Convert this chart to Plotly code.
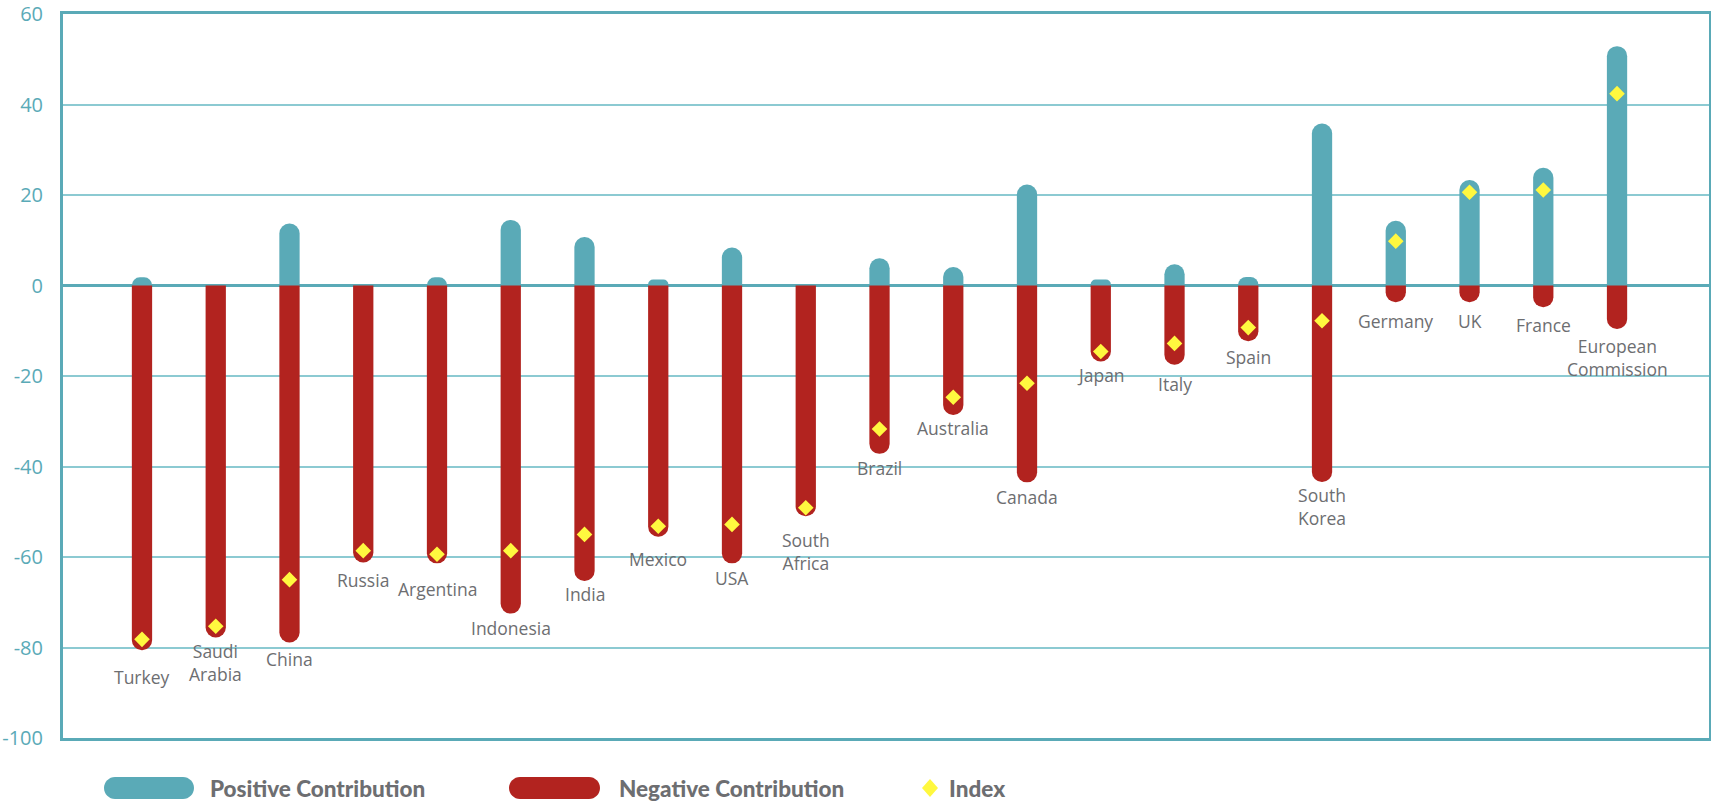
import plotly.graph_objects as go

# Country contributions (positive / negative) and the resulting index
countries = [
    "Turkey", "Saudi Arabia", "China", "Russia", "Argentina", "Indonesia",
    "India", "Mexico", "USA", "South Africa", "Brazil", "Australia", "Canada",
    "Japan", "Italy", "Spain", "South Korea", "Germany", "UK", "France",
    "European Commission",
]
positive = [1.8, 0, 13.7, 0, 1.8, 14.5, 10.7, 1.3, 8.4, 0, 6.0, 4.1, 22.3,
            1.3, 4.7, 1.9, 35.8, 14.3, 23.3, 26.0, 52.9]
negative = [-80.6, -77.8, -78.9, -61.2, -61.4, -72.5, -65.3, -55.5, -61.4,
            -51.0, -37.2, -28.6, -43.5, -16.8, -17.5, -12.3, -43.4, -3.7,
            -3.7, -4.8, -9.6]
index = [-78.2, -75.3, -65.0, -58.6, -59.4, -58.6, -55.0, -53.2, -52.8,
         -49.1, -31.7, -24.7, -21.6, -14.6, -12.8, -9.3, -7.8, 9.8, 20.6,
         21.1, 42.4]
y_ticks = [60, 40, 20, 0, -20, -40, -60, -80, -100]

TEAL = "#5aaab7"
RED = "#b2231f"
YELLOW = "#fff83f"
GRID = "#8ccad2"
LABEL = "#6d6e71"

# pixel distance from the end of each red bar to the middle of its label
label_drop = [27, 25, 16, 18, 26, 14, 13, 22, 15, 35, 14, 13, 15, 13, 19,
              16, 25, 19, 19, 18, 29]

W, H = 1711, 804
L, R, T, B = 63, 2, 14, 66

fig = go.Figure()
fig.add_trace(go.Bar(
    x=countries, y=positive, width=0.275, name="Positive Contribution",
    marker=dict(color=TEAL, line=dict(width=0), cornerradius="50%"),
    hoverinfo="skip",
))
fig.add_trace(go.Bar(
    x=countries, y=negative, width=0.275, name="Negative Contribution",
    marker=dict(color=RED, line=dict(width=0), cornerradius="50%"),
    hoverinfo="skip",
))
fig.add_trace(go.Scatter(
    x=countries, y=index, mode="markers", name="Index",
    marker=dict(symbol="diamond", size=12, color=YELLOW, line=dict(width=0)),
    hoverinfo="skip",
))

annotations = []
for name, neg, drop in zip(countries, negative, label_drop):
    annotations.append(dict(
        x=name, y=neg, xref="x", yref="y", text=name.replace(" ", "<br>"),
        showarrow=False, xanchor="center", yanchor="middle", yshift=-drop,
        font=dict(family="Open Sans", size=17.5, color=LABEL),
    ))


def pill(x0, x1, yc, h):
    r = h / 2
    k = 0.5523 * r
    yb, yt = yc - r, yc + r
    return (
        f"M{x0 + r},{yb} L{x1 - r},{yb} "
        f"C{x1 - r + k},{yb} {x1},{yc - k} {x1},{yc} "
        f"C{x1},{yc + k} {x1 - r + k},{yt} {x1 - r},{yt} "
        f"L{x0 + r},{yt} "
        f"C{x0 + r - k},{yt} {x0},{yc + k} {x0},{yc} "
        f"C{x0},{yc - k} {x0 + r - k},{yb} {x0 + r},{yb} Z"
    )


# legend row below the plot, positioned in pixels from the plot's lower-left corner
leg_y = -50
shapes = []
for (x0, x1), col in [((41, 131), TEAL), ((446, 537), RED)]:
    shapes.append(dict(
        type="path", xref="paper", yref="paper", xsizemode="pixel",
        ysizemode="pixel", xanchor=0, yanchor=0,
        path=pill(x0, x1, leg_y, 22), fillcolor=col, line=dict(width=0),
    ))
dx, dy = 867, leg_y
shapes.append(dict(
    type="path", xref="paper", yref="paper", xsizemode="pixel",
    ysizemode="pixel", xanchor=0, yanchor=0,
    path=f"M{dx - 8},{dy} L{dx},{dy + 9} L{dx + 8},{dy} L{dx},{dy - 9} Z",
    fillcolor=YELLOW, line=dict(width=0),
))
for text, xs in [("Positive Contribution", 145), ("Negative Contribution", 554),
                 ("Index", 884)]:
    annotations.append(dict(
        x=0, y=0, xref="paper", yref="paper", xanchor="left",
        yanchor="middle", xshift=xs, yshift=leg_y, showarrow=False,
        text=text,
        font=dict(family="Lato", size=22.5, color=LABEL, weight=900),
    ))

fig.update_layout(
    width=W, height=H,
    margin=dict(l=L, r=R, t=T, b=B, pad=0, autoexpand=False),
    paper_bgcolor="white", plot_bgcolor="white",
    barmode="overlay", showlegend=False,
    annotations=annotations, shapes=shapes,
    xaxis=dict(
        type="category", range=[-1.071, 21.247], showticklabels=False,
        showgrid=False, zeroline=False, ticks="", automargin=False,
        showline=True, linecolor=TEAL, linewidth=3, mirror=True,
        fixedrange=True,
    ),
    yaxis=dict(
        range=[-100, 60], tickvals=y_ticks,
        ticktext=[str(v) for v in y_ticks],
        tickfont=dict(family="Open Sans", size=20, color=TEAL),
        ticks="", ticklabelstandoff=13, ticklabeloverflow="allow",
        automargin=False,
        showgrid=True, gridcolor=GRID, gridwidth=1.5,
        zeroline=True, zerolinecolor=TEAL, zerolinewidth=3,
        showline=True, linecolor=TEAL, linewidth=3, mirror=True,
        fixedrange=True,
    ),
)

fig.write_html("out.html", config={"displayModeBar": False})
